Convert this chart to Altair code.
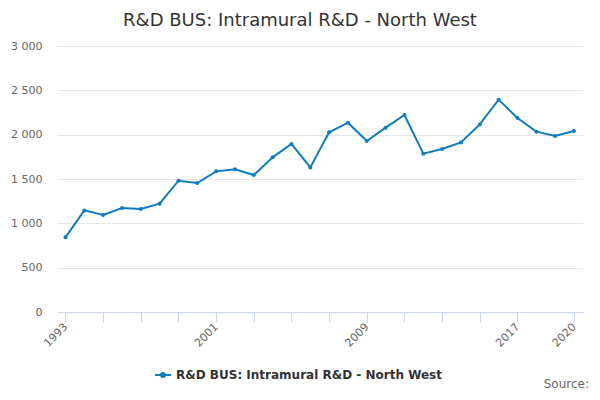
import altair as alt
import pandas as pd

# values
years = list(range(1993, 2021))
values = [842, 1146, 1094, 1173, 1162, 1222, 1481, 1455, 1586, 1609,
          1545, 1744, 1895, 1631, 2026, 2135, 1928, 2079, 2222, 1786,
          1838, 1913, 2116, 2395, 2188, 2034, 1985, 2041]
series = "R&D BUS: Intramural R&D - North West"

x_ticks = [1993, 1995, 1997, 1999, 2001, 2003, 2005, 2007, 2009, 2011,
           2013, 2015, 2017, 2020]
x_labels = [1993, 2001, 2009, 2017, 2020]
y_ticks = [0, 500, 1000, 1500, 2000, 2500, 3000]

df = pd.DataFrame({"year": years, "value": values, "series": series})

blue = "#0f7cc0"
font = "DejaVu Sans"

x_enc = alt.X(
    "year:Q",
    scale=alt.Scale(domain=[1992.55, 2020.48], nice=False, zero=False),
    axis=alt.Axis(
        title=None, values=x_ticks, grid=False, format="d",
        labelExpr="indexof(" + str(x_labels) + ", datum.value) >= 0 ? datum.label : ''",
        labelAngle=-45, labelAlign="right", labelBaseline="middle",
        labelPadding=3, labelFlush=False, labelOverlap=False,
        tickSize=10, tickColor="#ccd6eb", domainColor="#ccd6eb",
        labelColor="#666666", labelFontSize=11, labelFont=font),
)
y_enc = alt.Y(
    "value:Q",
    scale=alt.Scale(domain=[0, 3000], nice=False),
    axis=alt.Axis(
        title=None, values=y_ticks, domain=False, ticks=False,
        labelExpr="replace(format(datum.value, ','), ',', ' ')",
        labelPadding=15, labelColor="#666666", labelFontSize=11,
        labelFont=font, gridColor="#e6e6e6"),
)
color_enc = alt.Color(
    "series:N",
    scale=alt.Scale(range=[blue]),
    legend=alt.Legend(
        title=None, orient="none", legendX=97, legendY=320, labelLimit=0,
        symbolType="M-1,0H1M-0.25,0A0.25,0.25,0,1,1,0.25,0A0.25,0.25,0,1,1,-0.25,0",
        symbolSize=256, symbolStrokeWidth=2, symbolFillColor=blue,
        symbolStrokeColor=blue, labelFont=font, labelFontSize=12,
        labelFontWeight="bold", labelColor="#333333"),
)

base = alt.Chart(df)
line = base.mark_line(strokeWidth=2).encode(x=x_enc, y=y_enc, color=color_enc)
points = base.mark_point(filled=True, size=16, opacity=1).encode(
    x="year:Q", y="value:Q", color=alt.Color("series:N", legend=None))

source = alt.Chart(pd.DataFrame({"t": ["Source:"]})).mark_text(
    align="right", baseline="alphabetic", font=font, fontSize=12,
    color="#666666").encode(
    text="t:N", x=alt.value(532), y=alt.value(342))

chart = alt.layer(line, points, source).properties(
    width=526, height=266,
    autosize=alt.AutoSizeParams(type="none"),
    padding={"left": 49, "top": 38, "right": 9, "bottom": 80},
    title=alt.Title(series, font=font, fontSize=18, fontWeight="normal",
                    color="#333333", anchor="middle", frame="group",
                    dx=-20, offset=10),
).configure_view(stroke=None)

chart.save("out.html", embed_options={"renderer": "svg", "actions": False})
